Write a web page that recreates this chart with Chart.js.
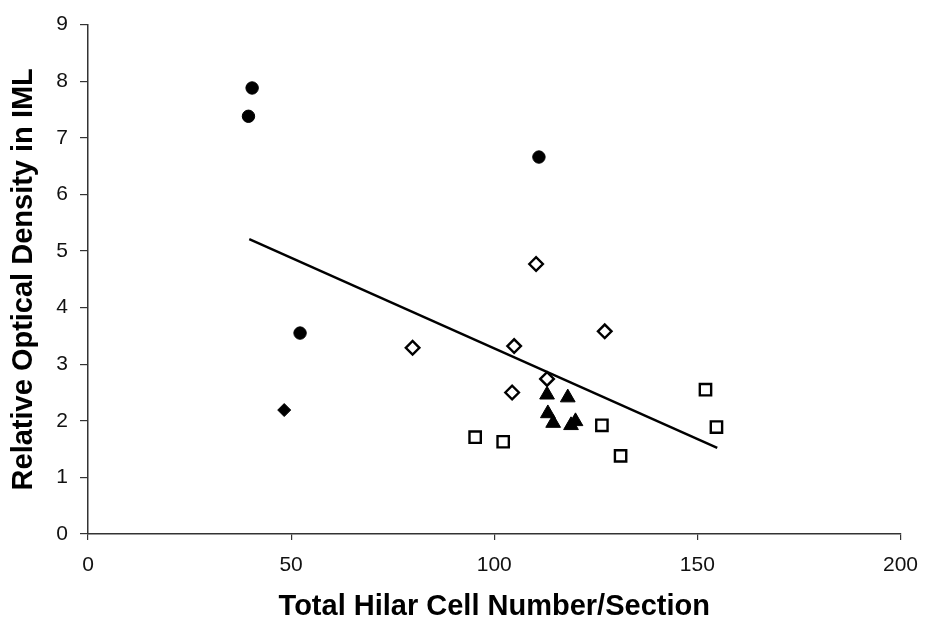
<!DOCTYPE html>
<html>
<head>
<meta charset="utf-8">
<script src="https://cdn.jsdelivr.net/npm/chart.js@4.4.1/dist/chart.umd.min.js"></script>
<style>
  html, body { margin: 0; padding: 0; background: #fff; }
  #wrap { width: 931px; height: 635px; position: relative; }
</style>
</head>
<body>
<div id="wrap"><canvas id="chart_IML"></canvas></div>
<script>
// Hilar cell counts (x) against IML optical density (y), one array pair per group
var circleX = [40.4, 39.5, 111.0, 52.2];
var circleY = [7.88, 7.38, 6.66, 3.55];

var filledDiamondX = [48.3];
var filledDiamondY = [2.19];

var openDiamondX = [110.3, 79.9, 104.9, 127.2, 113.0, 104.4];
var openDiamondY = [4.77, 3.29, 3.32, 3.58, 2.74, 2.50];

var triangleX = [113.0, 118.1, 113.2, 114.5, 118.9, 120.0];
var triangleY = [2.46, 2.41, 2.13, 1.96, 1.92, 1.99];

var squareX = [95.3, 102.2, 126.5, 131.1, 152.0, 154.7];
var squareY = [1.71, 1.63, 1.92, 1.38, 2.55, 1.89];

// regression line end points
var trendX = [39.7, 154.9];
var trendY = [5.21, 1.52];

var xTicks = [0, 50, 100, 150, 200];
var yTicks = [0, 1, 2, 3, 4, 5, 6, 7, 8, 9];

function toPoints(xs, ys){
    return xs.map(function(x, i){ return {x: x, y: ys[i]}; });
}

function scatterSet(xs, ys, style, radius, fill){
    return {
        type: 'scatter',
        data: toPoints(xs, ys),
        pointStyle: style,
        pointRadius: radius,
        pointHoverRadius: radius,
        pointBackgroundColor: fill,
        pointBorderColor: '#000',
        pointBorderWidth: fill === '#fff' ? 2.4 : 1
    };
}

var axisColor = '#333';
var tickFont = { family: 'Arial, "Liberation Sans", sans-serif', size: 21 };
var titleFont = { family: 'Arial, "Liberation Sans", sans-serif', size: 29, weight: 'bold' };

const data = {
    datasets: [
        {
            type: 'line',
            data: toPoints(trendX, trendY),
            borderColor: '#000',
            borderWidth: 2.4,
            pointRadius: 0,
            fill: false
        },
        scatterSet(circleX, circleY, 'circle', 6.2, '#000'),
        scatterSet(filledDiamondX, filledDiamondY, 'rectRot', 6.5, '#000'),
        scatterSet(openDiamondX, openDiamondY, 'rectRot', 6.8, '#fff'),
        scatterSet(triangleX, triangleY, 'triangle', 8.5, '#000'),
        scatterSet(squareX, squareY, 'rect', 8, '#fff')
    ]
};

const config = {
    type: 'scatter',
    data: data,
    options: {
        responsive: false,
        animation: false,
        layout: { padding: { top: 19, right: 27, left: 0, bottom: 0 } },
        plugins: {
            legend: { display: false },
            tooltip: { enabled: false }
        },
        scales: {
            x: {
                type: 'linear',
                min: 0,
                max: 200,
                afterBuildTicks: function(scale){ scale.ticks = xTicks.map(function(v){ return {value: v}; }); },
                afterFit: function(scale){ scale.height = 101; },
                border: { color: axisColor, width: 1.5 },
                grid: { drawOnChartArea: false, tickLength: 6, tickColor: axisColor, lineWidth: 1.2 },
                ticks: { color: '#111', font: tickFont, padding: 13, maxRotation: 0 },
                title: { display: true, text: 'Total Hilar Cell Number/Section', color: '#000', font: titleFont, padding: { top: 0, bottom: 11 } }
            },
            y: {
                type: 'linear',
                min: 0,
                max: 9,
                afterBuildTicks: function(scale){ scale.ticks = yTicks.map(function(v){ return {value: v}; }); },
                afterFit: function(scale){ scale.width = 88; },
                border: { color: axisColor, width: 1.5 },
                grid: { drawOnChartArea: false, tickLength: 8, tickColor: axisColor, lineWidth: 1.2 },
                ticks: { color: '#111', font: tickFont, padding: 12 },
                title: { display: true, text: 'Relative Optical Density in IML', color: '#000', font: titleFont, padding: { top: 7, bottom: 0 } }
            }
        }
    }
};

var canvas = document.getElementById("chart_IML");
canvas.width = 931;
canvas.height = 635;
var IML_chart = new Chart(canvas.getContext("2d"), config);
</script>
</body>
</html>
